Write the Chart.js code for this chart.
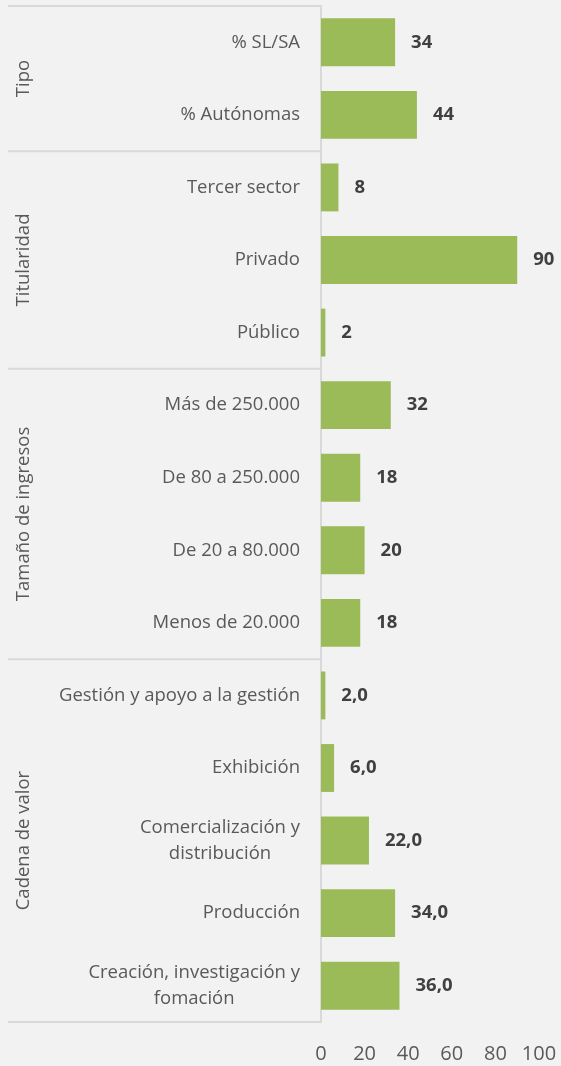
<!DOCTYPE html>
<html>
<head>
<meta charset="utf-8">
<script src="https://cdn.jsdelivr.net/npm/chart.js@4.4.1/dist/chart.umd.min.js"></script>
<style>
    html, body { margin: 0; padding: 0; background: #f2f2f2; }
    #wrap { width: 561px; height: 1066px; }
</style>
</head>
<body>
<div id="wrap"><canvas id="chart" width="561" height="1066"></canvas></div>
<script>
    // Categories top to bottom; arrays are two-line labels
    var categories = [
        '% SL/SA', '% Autónomas',
        'Tercer sector', 'Privado', 'Público',
        'Más de 250.000', 'De 80 a 250.000', 'De 20 a 80.000', 'Menos de 20.000',
        'Gestión y apoyo a la gestión', 'Exhibición',
        ['Comercialización y', 'distribución'], 'Producción',
        ['Creación, investigación y', 'fomación']
    ];
    var values = [34, 44, 8, 90, 2, 32, 18, 20, 18, 2.0, 6.0, 22.0, 34.0, 36.0];
    var valueDecimals = [0, 0, 0, 0, 0, 0, 0, 0, 0, 1, 1, 1, 1, 1];

    // Groups: name and how many categories they span
    var groupNames = ['Tipo', 'Titularidad', 'Tamaño de ingresos', 'Cadena de valor'];
    var groupSizes = [2, 3, 4, 5];

    var xTicks = [0, 20, 40, 60, 80, 100];

    var TEXT = '#595959';
    var LINE = '#d9d9d9';
    var FONT = "'Open Sans', sans-serif";
    var LABEL_SIZE = 18.5;

    function fmt(v, d) {
        return v.toFixed(d).replace('.', ',');
    }

    var groupAxisPlugin = {
        id: 'groupAxis',
        afterDraw: function (chart) {
            var ctx = chart.ctx;
            var y = chart.scales.y;
            var area = chart.chartArea;
            var labelRight = area.left - 21;

            ctx.save();
            // category labels
            ctx.fillStyle = TEXT;
            ctx.font = LABEL_SIZE + 'px ' + FONT;
            ctx.textBaseline = 'middle';
            for (var i = 0; i < categories.length; i++) {
                var cy = y.getPixelForValue(i);
                var lab = categories[i];
                if (Array.isArray(lab)) {
                    var w = 0;
                    lab.forEach(function (s) { w = Math.max(w, ctx.measureText(s).width); });
                    ctx.textAlign = 'center';
                    var lh = 26;
                    for (var k = 0; k < lab.length; k++) {
                        ctx.fillText(lab[k], labelRight - w / 2, cy + (k - (lab.length - 1) / 2) * lh);
                    }
                } else {
                    ctx.textAlign = 'right';
                    ctx.fillText(lab, labelRight, cy);
                }
            }

            // group separators and rotated group names
            ctx.strokeStyle = LINE;
            ctx.lineWidth = 2;
            var start = 0;
            var x0 = 8;
            var topLine = y.getPixelForValue(-0.5);
            ctx.beginPath();
            ctx.moveTo(x0, topLine);
            ctx.lineTo(area.left, topLine);
            ctx.stroke();
            for (var g = 0; g < groupNames.length; g++) {
                var end = start + groupSizes[g];
                var yTop = y.getPixelForValue(start - 0.5);
                var yBot = y.getPixelForValue(end - 0.5);
                ctx.beginPath();
                ctx.moveTo(x0, yBot);
                ctx.lineTo(area.left, yBot);
                ctx.stroke();

                ctx.save();
                ctx.translate(24, (yTop + yBot) / 2);
                ctx.rotate(-Math.PI / 2);
                ctx.textAlign = 'center';
                ctx.textBaseline = 'middle';
                ctx.fillStyle = TEXT;
                ctx.font = LABEL_SIZE + 'px ' + FONT;
                ctx.fillText(groupNames[g], 0, 0);
                ctx.restore();
                start = end;
            }

            // value labels beside each bar
            var meta = chart.getDatasetMeta(0);
            ctx.fillStyle = '#404040';
            ctx.font = 'bold ' + LABEL_SIZE + 'px ' + FONT;
            ctx.textAlign = 'left';
            ctx.textBaseline = 'middle';
            meta.data.forEach(function (bar, i) {
                ctx.fillText(fmt(values[i], valueDecimals[i]), bar.x + 16, bar.y);
            });
            ctx.restore();
        }
    };

    new Chart(document.getElementById('chart').getContext('2d'), {
        type: 'bar',
        data: {
            labels: categories,
            datasets: [{
                data: values,
                backgroundColor: '#9bbb59',
                borderWidth: 0,
                categoryPercentage: 1,
                barPercentage: 0.66
            }]
        },
        options: {
            indexAxis: 'y',
            responsive: false,
            animation: false,
            layout: { padding: { left: 0, right: 22, top: 6, bottom: 0 } },
            plugins: {
                legend: { display: false },
                tooltip: { enabled: false }
            },
            scales: {
                x: {
                    min: 0,
                    max: 100,
                    afterBuildTicks: function (scale) {
                        scale.ticks = xTicks.map(function (v) { return { value: v }; });
                    },
                    afterFit: function (scale) {
                        scale.height = 44;
                        scale.paddingLeft = 0;
                        scale.paddingRight = 0;
                    },
                    grid: { display: false, drawTicks: false },
                    border: { display: false },
                    ticks: {
                        color: TEXT,
                        font: { family: FONT, size: 20 },
                        padding: 20,
                        maxRotation: 0
                    }
                },
                y: {
                    afterFit: function (scale) {
                        scale.width = 321;
                    },
                    grid: { display: false, drawTicks: false },
                    border: { display: true, color: LINE, width: 2 },
                    ticks: { display: false }
                }
            }
        },
        plugins: [groupAxisPlugin]
    });
</script>
</body>
</html>
